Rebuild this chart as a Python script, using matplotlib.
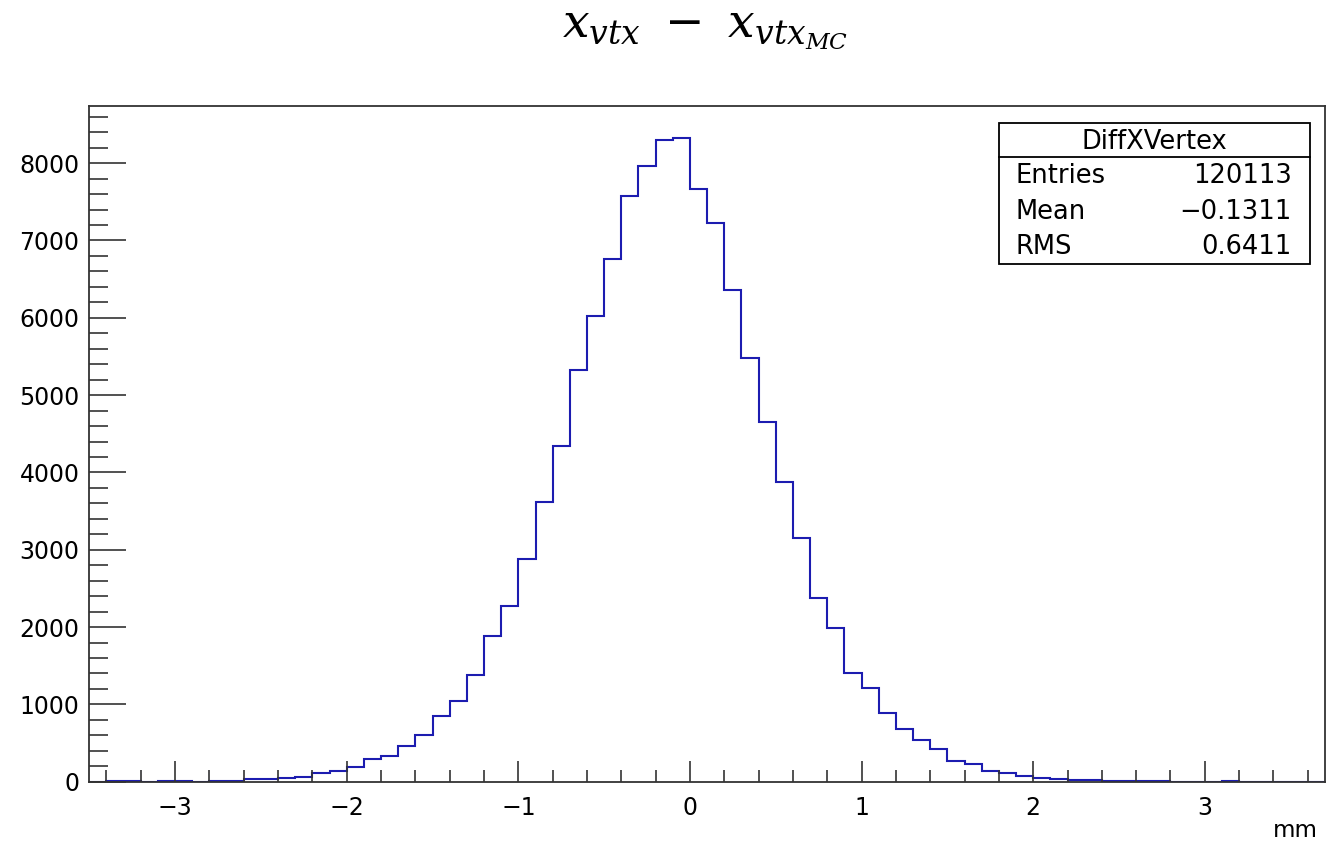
import numpy as np
import matplotlib
matplotlib.use("Agg")
import matplotlib.pyplot as plt
from matplotlib.patches import Rectangle
from matplotlib.lines import Line2D
from matplotlib.ticker import MultipleLocator

# Histogram binning: 72 bins of 0.1 mm from -3.5 to 3.7
x_low = -3.5
x_high = 3.7
n_bins = 72

# Bin contents (counts per bin), left to right
counts = [
    0, 8, 8, 0, 10, 10, 0, 12, 14, 35,
    38, 42, 65, 112, 134, 194, 293, 336, 458, 608,
    856, 1048, 1380, 1885, 2273, 2881, 3622, 4343, 5326, 6026,
    6758, 7581, 7965, 8301, 8323, 7668, 7224, 6361, 5477, 4649,
    3873, 3153, 2376, 1990, 1406, 1210, 893, 682, 537, 427,
    264, 225, 134, 117, 74, 52, 30, 28, 26, 9,
    8, 8, 7, 0, 0, 0, 8, 0, 0, 0,
    0, 0,
]

hist_name = "DiffXVertex"
stat_labels = ["Entries", "Mean", "RMS"]
stat_values = ["120113", "\u22120.1311", "0.6411"]
title_text = r"$x_{vtx}\ -\ x_{vtx_{MC}}$"
x_unit = "mm"

plt.rcParams["font.family"] = ["DejaVu Sans"]
plt.rcParams["mathtext.fontset"] = "dejavuserif"

fig = plt.figure(figsize=(13.39, 8.42), dpi=100)
ax = fig.add_axes([0.0667, 0.0716, 0.9228, 0.8025])

edges = np.linspace(x_low, x_high, n_bins + 1)
ax.stairs(counts, edges, color="#1c1cb0", linewidth=1.5, baseline=None)

ax.set_xlim(x_low, x_high)
ax.set_ylim(0, max(counts) * 1.05)

ax.xaxis.set_major_locator(MultipleLocator(1))
ax.xaxis.set_minor_locator(MultipleLocator(0.2))
ax.yaxis.set_major_locator(MultipleLocator(1000))
ax.yaxis.set_minor_locator(MultipleLocator(200))

frame_col = "#333333"
for side in ax.spines.values():
    side.set_color(frame_col)
    side.set_linewidth(1.3)

ax.tick_params(axis="x", which="major", direction="in", length=15, width=1.2,
               color=frame_col, labelsize=17, pad=10, top=False)
ax.tick_params(axis="x", which="minor", direction="in", length=8.4, width=1.2,
               color=frame_col, top=False)
ax.tick_params(axis="y", which="major", direction="in", length=26.5, width=1.2,
               color=frame_col, labelsize=17, pad=7, right=False)
ax.tick_params(axis="y", which="minor", direction="in", length=13.5, width=1.2,
               color=frame_col, right=False)

# Axis unit label at the lower right
fig.text(1318 / 1339, 1 - 837 / 842, x_unit, ha="right", va="baseline", fontsize=16.5)

# Title
fig.text(0.5265, 1 - 36.7 / 842, title_text, ha="center", va="baseline", fontsize=34)

# Statistics box
bx0, bx1 = 999.3 / 1339, 1310 / 1339
by_top, by_bot = 1 - 122.7 / 842, 1 - 264 / 842
by_sep = 1 - 156.7 / 842
fig.add_artist(Rectangle((bx0, by_bot), bx1 - bx0, by_top - by_bot,
                         transform=fig.transFigure, facecolor="white",
                         edgecolor="black", linewidth=1.3, zorder=5))
fig.add_artist(Line2D([bx0, bx1], [by_sep, by_sep], transform=fig.transFigure,
                      color="black", linewidth=1.3, zorder=6))
fig.text((bx0 + bx1) / 2, 1 - 141.7 / 842, hist_name, ha="center", va="center",
         fontsize=18.5, zorder=7)
row_y = [175.7, 211.7, 246.7]
for lab, val, yy in zip(stat_labels, stat_values, row_y):
    fig.text(1015 / 1339, 1 - yy / 842, lab, ha="left", va="center", fontsize=18.5, zorder=7)
    fig.text(1291.7 / 1339, 1 - yy / 842, val, ha="right", va="center", fontsize=18.5, zorder=7)

fig.savefig("out.png", dpi=100, facecolor="white")
